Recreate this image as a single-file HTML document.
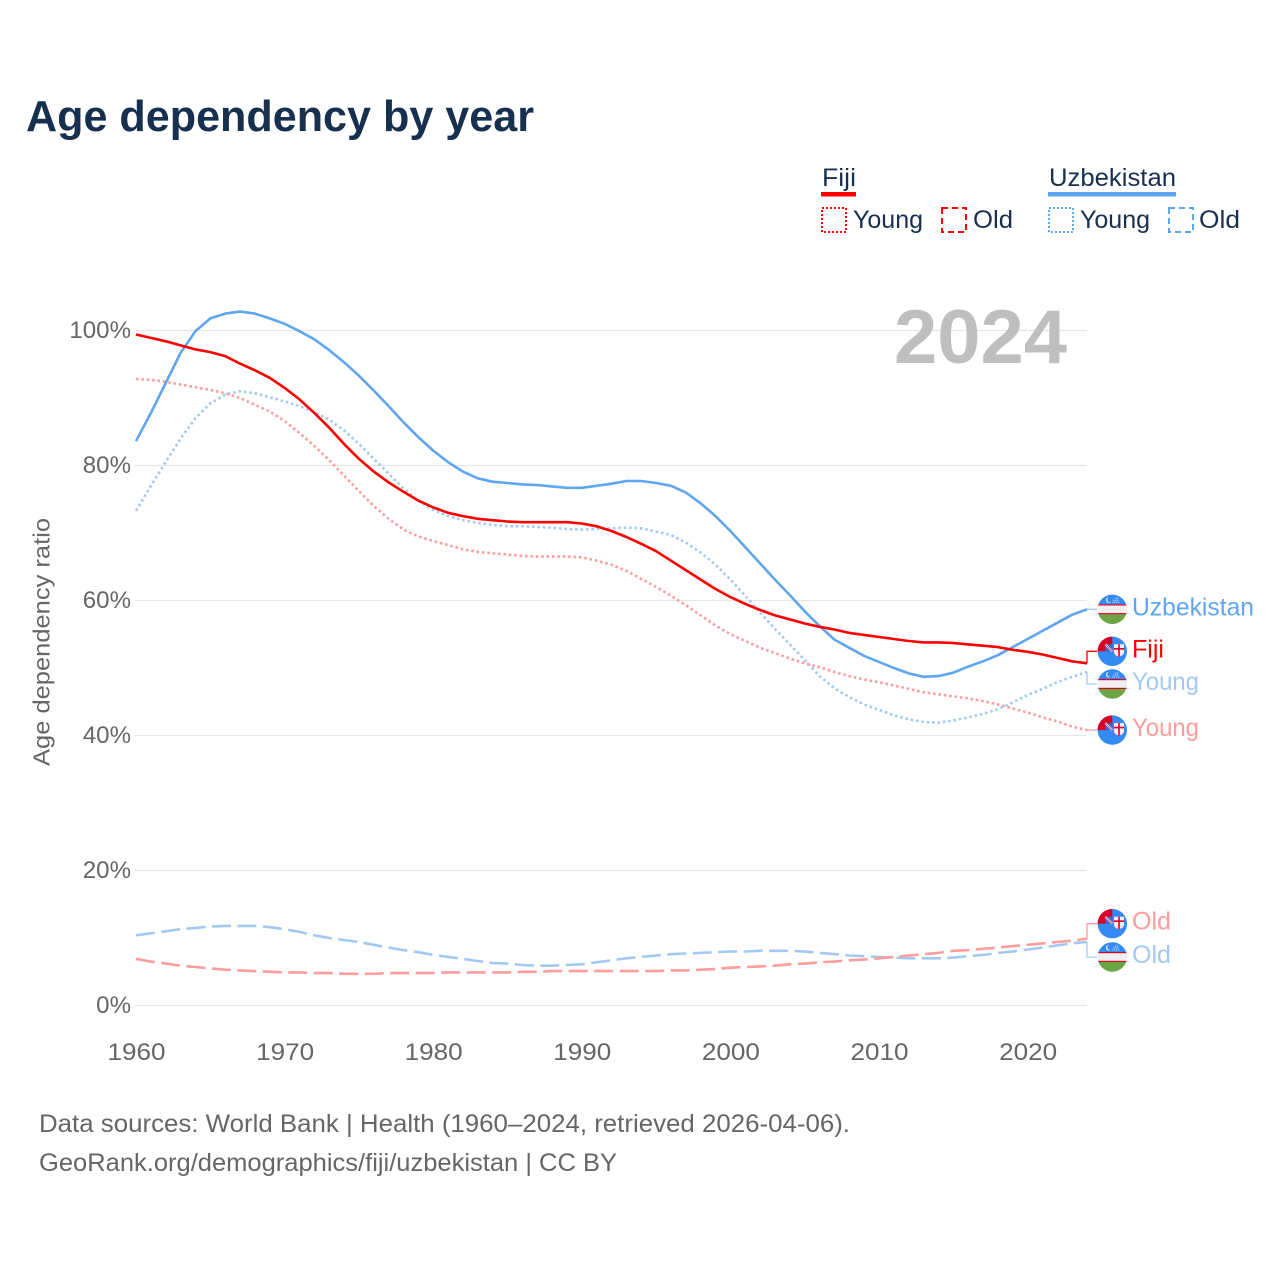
<!DOCTYPE html>
<html lang="en">
<head>
<meta charset="utf-8">
<title>Age dependency by year</title>
<style>
html,body{margin:0;padding:0;background:#fff;}
svg{display:block;font-family:"Liberation Sans",sans-serif;}
</style>
</head>
<body>
<svg id="chart" xmlns="http://www.w3.org/2000/svg" width="1280" height="1280" viewBox="0 0 1280 1280">
  <defs>
    <clipPath id="flag-clip"><circle cx="0" cy="0" r="14.7"/></clipPath>
    <g id="flag-uz">
      <g clip-path="url(#flag-clip)">
        <rect x="-15" y="-15" width="30" height="30" fill="#f0f0f0"/>
        <rect x="-15" y="-15" width="30" height="10" fill="#338af3"/>
        <rect x="-15" y="5" width="30" height="10" fill="#6da544"/>
        <rect x="-15" y="-5" width="30" height="1.2" fill="#d80027"/>
        <rect x="-15" y="3.8" width="30" height="1.2" fill="#d80027"/>
        <circle cx="-3.5" cy="-9.3" r="2.8" fill="#f0f0f0"/>
        <circle cx="-2.5" cy="-9.6" r="2.5" fill="#338af3"/>
        <path d="M0-7h7M1-9h6M3-11h4" stroke="#f0f0f0" stroke-width="1" stroke-dasharray="1 1"/>
      </g>
    </g>
    <g id="flag-fj">
      <g clip-path="url(#flag-clip)">
        <rect x="-15" y="-15" width="30" height="30" fill="#338af3"/>
        <rect x="-15" y="-15" width="15" height="15" fill="#d80027"/>
        <rect x="-7" y="-7" width="7" height="7" fill="#3f66c4"/>
        <path d="M-7-7L0 0" stroke="#f0f0f0" stroke-width="2"/>
        <path d="M-7-7L0 0" stroke="#d80027" stroke-width=".6"/>
        <path d="M1.7-7H11.7V1Q11.7 4 6.7 5.5Q1.7 4 1.7 1Z" fill="#f0f0f0"/>
        <path d="M6.7-7V5.5M1.7-2.5H11.7" stroke="#d80027" stroke-width="1.6"/>
      </g>
    </g>
  </defs>

  <text x="26" y="131" font-size="44" font-weight="700" fill="#17304f" textLength="508" lengthAdjust="spacingAndGlyphs">Age dependency by year</text>

  <g font-size="25" fill="#17304f">
    <g>
      <text x="822" y="186" textLength="34" lengthAdjust="spacingAndGlyphs">Fiji</text>
      <rect x="821" y="192" width="35" height="4.5" fill="#ff0000"/>
      <rect x="822" y="208" width="24" height="24" fill="none" stroke="#ff0000" stroke-width="2" stroke-dasharray="2 2"/>
      <text x="853" y="228" textLength="70" lengthAdjust="spacingAndGlyphs">Young</text>
      <rect x="942" y="208" width="24" height="24" fill="none" stroke="#ff0000" stroke-width="2" stroke-dasharray="6 4"/>
      <text x="973" y="228" textLength="40" lengthAdjust="spacingAndGlyphs">Old</text>
    </g>
    <g>
      <text x="1049" y="186" textLength="127" lengthAdjust="spacingAndGlyphs">Uzbekistan</text>
      <rect x="1048" y="192" width="128" height="4.5" fill="#60a5f0"/>
      <rect x="1049" y="208" width="24" height="24" fill="none" stroke="#60a5f0" stroke-width="2" stroke-dasharray="2 2"/>
      <text x="1080" y="228" textLength="70" lengthAdjust="spacingAndGlyphs">Young</text>
      <rect x="1169" y="208" width="24" height="24" fill="none" stroke="#60a5f0" stroke-width="2" stroke-dasharray="6 4"/>
      <text x="1199" y="228" textLength="41" lengthAdjust="spacingAndGlyphs">Old</text>
    </g>
  </g>

  <g id="grid"></g>
  <text x="894" y="363" font-size="76" font-weight="700" fill="#bfbfbf" textLength="173" lengthAdjust="spacingAndGlyphs">2024</text>
  <g id="y-ticks"></g>
  <g id="x-ticks"></g>
  <text transform="translate(49.5 642) rotate(-90)" text-anchor="middle" font-size="23.5" fill="#666666" textLength="248" lengthAdjust="spacingAndGlyphs">Age dependency ratio</text>
  <g id="series"></g>
  <g id="end-labels"></g>

  <g font-size="25" fill="#666666">
    <text x="39" y="1132" textLength="811" lengthAdjust="spacingAndGlyphs">Data sources: World Bank | Health (1960–2024, retrieved 2026-04-06).</text>
    <text x="39" y="1171" textLength="578" lengthAdjust="spacingAndGlyphs">GeoRank.org/demographics/fiji/uzbekistan | CC BY</text>
  </g>
</svg>

<script>
const startYear = 1960;
const xTickYears = [1960, 1970, 1980, 1990, 2000, 2010, 2020];
const yTickValues = [0, 20, 40, 60, 80, 100];

const uzbekistanTotal = [83.6,87.8,92.2,96.7,99.9,101.8,102.5,102.8,102.5,101.8,101,99.9,98.7,97.1,95.3,93.3,91.1,88.8,86.4,84.2,82.2,80.5,79.1,78.1,77.6,77.4,77.2,77.1,76.9,76.7,76.7,77,77.3,77.7,77.7,77.4,77,76,74.4,72.5,70.3,67.9,65.5,63.1,60.8,58.4,56.2,54.2,53,51.8,50.9,50,49.2,48.7,48.8,49.3,50.2,51,51.9,53.1,54.3,55.5,56.7,57.9,58.7];
const fijiTotal = [99.4,98.9,98.4,97.8,97.2,96.8,96.2,95.1,94.1,93,91.5,89.8,87.8,85.6,83.2,81,79.1,77.5,76.1,74.8,73.8,73,72.5,72.1,71.9,71.7,71.6,71.6,71.6,71.6,71.4,71,70.3,69.4,68.4,67.3,65.9,64.5,63.1,61.7,60.5,59.5,58.6,57.8,57.2,56.6,56.1,55.7,55.2,54.9,54.6,54.3,54,53.8,53.8,53.7,53.5,53.3,53.1,52.7,52.4,52,51.5,51,50.7];
const uzbekistanYoung = [73.3,77,80.5,84,87,89.2,90.5,91,90.7,90.1,89.5,88.8,87.9,86.8,85.2,83.2,81,78.8,76.6,74.8,73.4,72.5,71.9,71.5,71.2,71,71,70.9,70.8,70.6,70.5,70.6,70.7,70.8,70.7,70.2,69.7,68.6,67.1,65.3,63.1,60.7,58.2,55.8,53.5,51.2,48.8,47,45.7,44.6,43.8,43,42.4,42,41.9,42.2,42.7,43.2,43.9,44.9,46,46.9,47.9,48.7,49.4];
const fijiYoung = [92.8,92.7,92.4,92,91.6,91.2,90.7,90,89,88,86.6,84.8,82.9,80.8,78.5,76.2,74,72.1,70.5,69.5,68.8,68.2,67.6,67.2,67,66.8,66.6,66.5,66.5,66.5,66.4,65.9,65.3,64.4,63.2,62,60.7,59.3,57.8,56.3,55,54,53,52.2,51.4,50.7,50.1,49.4,48.8,48.3,47.9,47.4,46.9,46.4,46.1,45.8,45.5,45.1,44.6,44,43.4,42.7,42.1,41.3,40.8];
const uzbekistanOld = [10.4,10.7,11,11.3,11.5,11.7,11.8,11.8,11.8,11.6,11.3,10.9,10.4,10,9.7,9.4,9,8.6,8.2,7.9,7.5,7.2,6.9,6.6,6.3,6.2,6,5.9,5.9,6,6.1,6.4,6.7,7,7.2,7.4,7.6,7.7,7.8,7.9,8,8,8.1,8.1,8.1,8,7.8,7.6,7.4,7.3,7.2,7.1,7,7,7,7.1,7.3,7.5,7.8,8,8.3,8.6,8.9,9.2,9.4];
const fijiOld = [6.9,6.5,6.2,5.9,5.7,5.5,5.3,5.2,5.1,5,4.9,4.9,4.8,4.8,4.7,4.7,4.7,4.8,4.8,4.8,4.8,4.9,4.9,4.9,4.9,4.9,5,5,5.1,5.1,5.1,5.1,5.1,5.1,5.1,5.1,5.2,5.2,5.3,5.4,5.6,5.7,5.8,5.9,6.1,6.2,6.4,6.5,6.7,6.8,7,7.2,7.4,7.6,7.8,8.1,8.2,8.4,8.6,8.8,9,9.2,9.4,9.6,9.9];

const yTickText = ['0%', '20%', '40%', '60%', '80%', '100%'];
const seriesLabels = ['Uzbekistan', 'Fiji', 'Young', 'Young', 'Old', 'Old'];

const NS = 'http://www.w3.org/2000/svg';
const xAxis = function (year) { return 136 + (year - startYear) * 14.86; };
const yAxis = function (value) { return 1005.5 - value * 6.75; };

function make(tag, attrs, parent) {
  const el = document.createElementNS(NS, tag);
  for (const k in attrs) el.setAttribute(k, attrs[k]);
  parent.appendChild(el);
  return el;
}

const gridG = document.getElementById('grid');
const yG = document.getElementById('y-ticks');
yTickValues.forEach(function (v, i) {
  const line = make('line', { x1: 135, x2: 1087, y1: yAxis(v), y2: yAxis(v), stroke: '#e6e6e6', 'stroke-width': 1.3 }, gridG);
  
  
  const t = make('text', { x: 131, y: yAxis(v) + 7.5, 'text-anchor': 'end', 'font-size': 24, fill: '#666666' }, yG);
  
  
  t.setAttribute('textLength', String(yTickText[i].length * 13.4 + 8));
  t.setAttribute('lengthAdjust', 'spacingAndGlyphs');
  t.textContent = yTickText[i];
});

const xG = document.getElementById('x-ticks');
xTickYears.forEach(function (yr) {
  const t = make('text', { x: xAxis(yr) + 0.5, y: 1060, 'text-anchor': 'middle', 'font-size': 24, fill: '#666666' }, xG);
  
  
  t.setAttribute('textLength', '58');
  t.setAttribute('lengthAdjust', 'spacingAndGlyphs');
  t.textContent = yr;
});

const dotted = '2.5 2.9';
const dashed = '19 6.5';
const seriesList = [
  { values: uzbekistanYoung, color: '#a3c9f3', dash: dotted, name: 'line-uzbekistan-young' },
  { values: fijiYoung, color: '#ff9c9c', dash: dotted, name: 'line-fiji-young' },
  { values: uzbekistanOld, color: '#a3c9f3', dash: dashed, name: 'line-uzbekistan-old' },
  { values: fijiOld, color: '#ff9c9c', dash: dashed, name: 'line-fiji-old' },
  { values: uzbekistanTotal, color: '#60a5f0', dash: 'none', name: 'line-uzbekistan-total' },
  { values: fijiTotal, color: '#ff0000', dash: 'none', name: 'line-fiji-total' }
];
const seriesG = document.getElementById('series');
seriesList.forEach(function (s) {
  const pts = s.values.map(function (v, i) {
    return xAxis(startYear + i).toFixed(1) + ',' + yAxis(v).toFixed(1);
  }).join(' ');
  const line = make('polyline', { points: pts, fill: 'none', stroke: s.color, 'stroke-width': 2.6, 'stroke-dasharray': s.dash, 'stroke-linejoin': 'round' }, seriesG);
  
  
});

/* Each end label: shift from the series end to de-collide it, plus flag choice. */
const endLabels = [
  { values: uzbekistanTotal, text: 0, color: '#60a5f0', line: '#a3c9f3', flag: 'flag-uz', shift: 0, width: 122 },
  { values: fijiTotal, text: 1, color: '#ff0000', line: '#ff0000', flag: 'flag-fj', shift: -12, width: 32 },
  { values: uzbekistanYoung, text: 2, color: '#a3c9f3', line: '#a3c9f3', flag: 'flag-uz', shift: 12, width: 67 },
  { values: fijiYoung, text: 3, color: '#ff9c9c', line: '#ff9c9c', flag: 'flag-fj', shift: 0, width: 67 },
  { values: fijiOld, text: 4, color: '#ff9c9c', line: '#ff9c9c', flag: 'flag-fj', shift: -15, width: 39 },
  { values: uzbekistanOld, text: 5, color: '#a3c9f3', line: '#a3c9f3', flag: 'flag-uz', shift: 15, width: 39 }
];
const labelsG = document.getElementById('end-labels');
endLabels.forEach(function (l) {
  const endVal = l.values[l.values.length - 1];
  const endY = yAxis(endVal);
  const labelY = endY + l.shift;
  const conn = make('path', { d: 'M1087 ' + endY.toFixed(1) + 'V' + labelY.toFixed(1) + 'H1097', fill: 'none', stroke: l.line, 'stroke-width': 1.3 }, labelsG);
  
  
  const flag = make('use', { href: '#' + l.flag, transform: 'translate(1112.3 ' + labelY.toFixed(1) + ')' }, labelsG);
  
  
  const t = make('text', { x: 1132, y: (labelY + 6).toFixed(1), 'font-size': 25, fill: l.color }, labelsG);
  
  
  t.setAttribute('textLength', String(l.width));
  t.setAttribute('lengthAdjust', 'spacingAndGlyphs');
  t.textContent = seriesLabels[l.text];
});
</script>
</body>
</html>
